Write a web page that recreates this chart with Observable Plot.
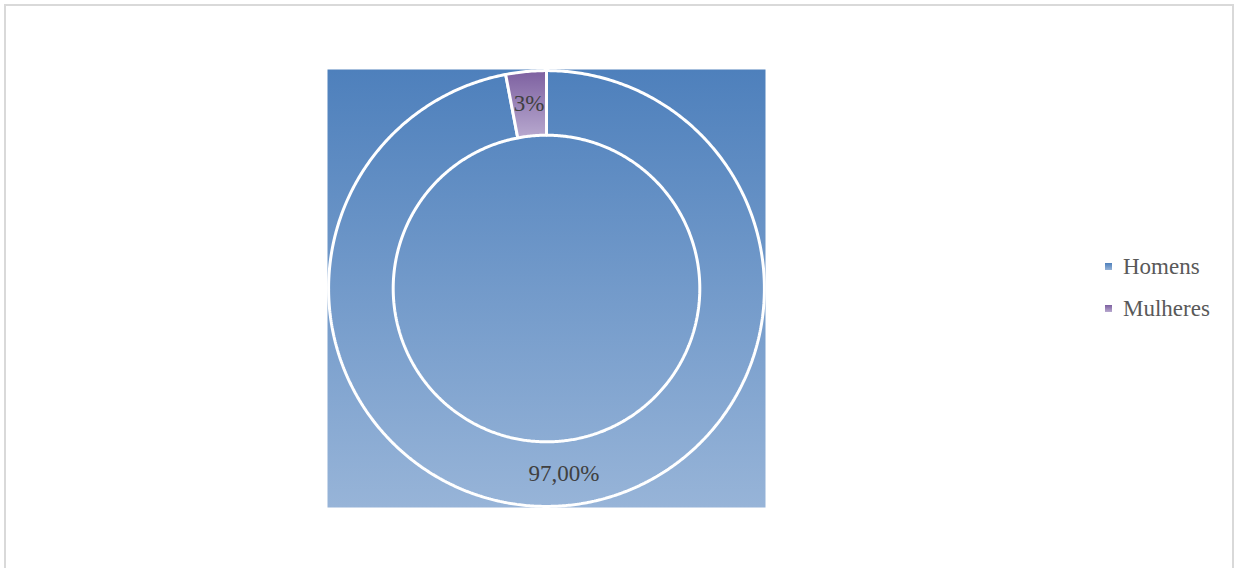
<!DOCTYPE html>
<html>
<head>
<meta charset="utf-8">
<script src="https://cdn.jsdelivr.net/npm/d3@7"></script>
<script src="https://cdn.jsdelivr.net/npm/@observablehq/plot@0.6"></script>
<style>
  html, body { margin: 0; padding: 0; background: #fff; }
  #page { position: relative; width: 1236px; height: 568px; overflow: hidden; background: #fff; }
  #border { position: absolute; left: 4px; top: 4px; width: 1230px; height: 700px;
            box-sizing: border-box; border: 2px solid #d9d9d9; }
  #chart { position: absolute; left: 0; top: 0; }
  #legend { position: absolute; left: 1104px; top: 255px; font-family: "Liberation Serif", serif;
            font-size: 23px; color: #595959; }
  .item { position: absolute; left: 0; white-space: nowrap; height: 23px; line-height: 23px; }
  .swatch { position: absolute; left: 1px; top: 8px; width: 7px; height: 7px; }
  .name { position: absolute; left: 19px; top: 0; }
</style>
</head>
<body>
<div id="page">
  <div id="border"></div>
  <div id="chart"></div>
  <div id="legend"></div>
</div>
<script>
// Share of respondents by sex
const categories = ["Homens", "Mulheres"];
const values = [97, 3];
const valueLabels = ["97,00%", "3%"];

// Gradient stops (top, bottom) per category
const gradients = {
  Homens: ["#4e80bc", "#97b4d8"],
  Mulheres: ["#7d60a0", "#b8a9cf"]
};
const gradId = (c) => "grad-" + c;

// Doughnut geometry in data units (the plot area spans -1..1 on both axes)
const outerR = 0.995;
const innerR = 0.70;

// Slices start at 12 o'clock and run clockwise
const total = d3.sum(values);
let acc = 0;
const slices = categories.map((c, i) => {
  const a0 = (acc / total) * 2 * Math.PI;
  acc += values[i];
  const a1 = (acc / total) * 2 * Math.PI;
  return {category: c, value: values[i], label: valueLabels[i], a0, a1};
});

const pt = (a, r) => ({x: r * Math.sin(a), y: r * Math.cos(a)});

// Outline of each ring segment as a closed polygon
function ringOutline(s) {
  const n = Math.max(8, Math.ceil((s.a1 - s.a0) / (Math.PI / 360)));
  const pts = [];
  for (let k = 0; k <= n; ++k) pts.push(pt(s.a0 + (s.a1 - s.a0) * k / n, outerR));
  for (let k = n; k >= 0; --k) pts.push(pt(s.a0 + (s.a1 - s.a0) * k / n, innerR));
  pts.push(pts[0]);
  return pts.map(p => ({...p, category: s.category}));
}

const labelPoints = slices.map(s => {
  const m = (s.a0 + s.a1) / 2;
  return {...pt(m, (outerR + innerR) / 2), label: s.label};
});

const chart = Plot.plot({
  width: 1236,
  height: 568,
  marginLeft: 327,
  marginRight: 471,
  marginTop: 69,
  marginBottom: 61,
  x: {domain: [-1, 1], axis: null},
  y: {domain: [-1, 1], axis: null},
  style: {fontFamily: "Liberation Serif, serif", background: "transparent"},
  marks: [
    Plot.frame({fill: `url(#${gradId("Homens")})`, stroke: "none"}),
    ...slices.map(s =>
      Plot.line(ringOutline(s), {
        x: "x", y: "y",
        fill: `url(#${gradId(s.category)})`,
        stroke: "white",
        strokeWidth: 3,
        strokeLinejoin: "miter"
      })
    ),
    Plot.text(labelPoints, {
      x: "x", y: "y", text: "label",
      fontSize: 23, fill: "#404040"
    })
  ]
});

// Vertical gradients, one per category
const defs = d3.select(chart).insert("defs", ":first-child");
for (const c of categories) {
  const g = defs.append("linearGradient")
    .attr("id", gradId(c))
    .attr("x1", 0).attr("y1", 0).attr("x2", 0).attr("y2", 1);
  g.append("stop").attr("offset", "0%").attr("stop-color", gradients[c][0]);
  g.append("stop").attr("offset", "100%").attr("stop-color", gradients[c][1]);
}

document.getElementById("chart").appendChild(chart);

// Legend
const legend = d3.select("#legend");
categories.forEach((c, i) => {
  const item = legend.append("div").attr("class", "item").style("top", (i * 42) + "px");
  item.append("div").attr("class", "swatch")
    .style("background", `linear-gradient(${gradients[c][0]}, ${gradients[c][1]})`);
  item.append("div").attr("class", "name").text(c);
});
</script>
</body>
</html>
